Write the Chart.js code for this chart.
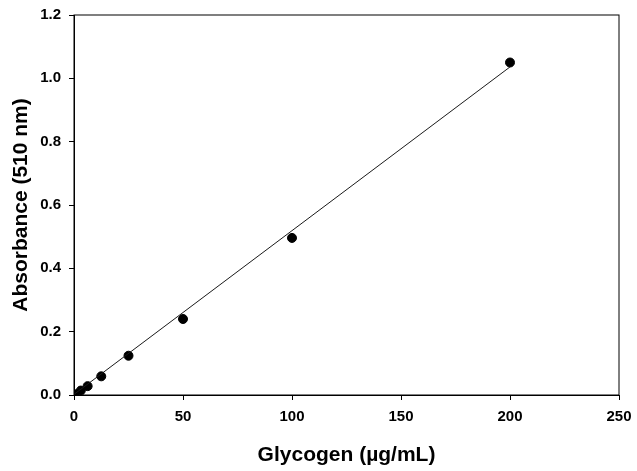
<!DOCTYPE html>
<html>
<head>
<meta charset="utf-8">
<script src="https://cdn.jsdelivr.net/npm/chart.js@4"></script>
<style>
html,body{margin:0;padding:0;background:#fff;}
#wrap{width:637px;height:471px;}
</style>
</head>
<body>
<div id="wrap"><canvas id="c" width="637" height="471"></canvas></div>
<script>
// Data
const glycogen = [0, 3.125, 6.25, 12.5, 25, 50, 100, 200];
const absorbance = [0.003, 0.014, 0.028, 0.059, 0.124, 0.240, 0.496, 1.050];
const fitX = [0, 200];
const fitY = [0.002, 1.036];
const xTicks = [0, 50, 100, 150, 200, 250];
const yTicks = [0.0, 0.2, 0.4, 0.6, 0.8, 1.0, 1.2];
const xTitle = 'Glycogen (\u00b5g/mL)';
const yTitle = 'Absorbance (510 nm)';

const FONT = '"Liberation Sans", Arial, sans-serif';

const boxPlugin = {
  id: 'box',
  afterDraw(chart) {
    const a = chart.chartArea, ctx = chart.ctx;
    ctx.save();
    ctx.strokeStyle = '#000';
    ctx.lineWidth = 1;
    ctx.strokeRect(a.left, a.top, a.right - a.left, a.bottom - a.top);
    ctx.restore();
  }
};

new Chart(document.getElementById('c'), {
  type: 'scatter',
  data: {
    datasets: [
      {
        type: 'line',
        data: fitX.map((x, i) => ({x: x, y: fitY[i]})),
        borderColor: '#1a1a1a',
        borderWidth: 1,
        pointRadius: 0,
        fill: false,
        tension: 0
      },
      {
        data: glycogen.map((x, i) => ({x: x, y: absorbance[i]})),
        backgroundColor: '#000',
        borderColor: '#000',
        pointRadius: 4.5,
        pointHoverRadius: 4.5
      }
    ]
  },
  options: {
    responsive: false,
    animation: false,
    devicePixelRatio: 1,
    layout: {padding: {top: 15, right: 18, bottom: 0, left: 0}},
    plugins: {legend: {display: false}, tooltip: {enabled: false}},
    scales: {
      x: {
        type: 'linear',
        min: 0, max: 250,
        afterBuildTicks(s) { s.ticks = xTicks.map(v => ({value: v})); },
        afterFit(s) { s.height = 76; s.paddingLeft = 0; s.paddingRight = 0; },
        grid: {display: true, drawOnChartArea: false, drawTicks: true, tickLength: 5, color: '#000', lineWidth: 1},
        border: {display: true, color: '#000', width: 1},
        ticks: {color: '#000', padding: 8, font: {family: FONT, size: 15, weight: 'bold'}, maxRotation: 0},
        title: {display: true, text: xTitle, color: '#000', padding: {top: 0, bottom: 3}, font: {family: FONT, size: 21, weight: 'bold'}}
      },
      y: {
        type: 'linear',
        min: 0, max: 1.2,
        afterBuildTicks(s) { s.ticks = yTicks.map(v => ({value: v})); },
        afterFit(s) { s.width = 74; s.paddingTop = 0; s.paddingBottom = 0; },
        grid: {display: true, drawOnChartArea: false, drawTicks: true, tickLength: 5, color: '#000', lineWidth: 1},
        border: {display: true, color: '#000', width: 1},
        ticks: {color: '#000', padding: 8, font: {family: FONT, size: 15, weight: 'bold'}, callback: v => Number(v).toFixed(1)},
        title: {display: true, text: yTitle, color: '#000', padding: {top: 9, bottom: 0}, font: {family: FONT, size: 21, weight: 'bold'}}
      }
    }
  },
  plugins: [boxPlugin]
});
</script>
</body>
</html>
